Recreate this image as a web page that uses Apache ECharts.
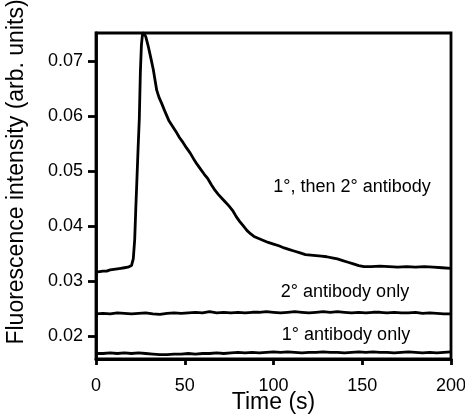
<!DOCTYPE html>
<html><head><meta charset="utf-8">
<script src="https://cdn.jsdelivr.net/npm/echarts@6/dist/echarts.min.js"></script>
<style>html,body{margin:0;padding:0;background:#fff}#c{width:465px;height:419px}</style>
</head><body><div id="c"></div>
<script>
// Main curve: 1°, then 2° antibody
const mainTime = [0,2,4,6,8,10,12,14,16,18,20,21,21.8,22.4,23,23.7,24.4,25,25.6,26.3,27,28,29.5,31,32.3,34.2,35.5,37,39,41,43,45,47,49,51,53,55,57,59,61,63,65,67,69,71,73,75,77,79,81,83,85,87,89,91,94,97,100,103,106,109,112,115,118,121,124,127,130,133,136,139,142,145,148,151,155,160,165,170,175,180,185,190,195,200];
const mainValue = [0.0316,0.0317,0.0318,0.0318,0.0320,0.0321,0.0322,0.0323,0.0324,0.0325,0.0328,0.0340,0.0375,0.0430,0.0480,0.0540,0.0595,0.0680,0.0730,0.0752,0.0752,0.0745,0.0726,0.0704,0.0684,0.0647,0.0634,0.0623,0.0607,0.0592,0.0582,0.0572,0.0561,0.0552,0.0542,0.0533,0.0522,0.0512,0.0503,0.0494,0.0486,0.0475,0.0465,0.0457,0.0450,0.0443,0.0436,0.0428,0.0417,0.0408,0.0400,0.0392,0.0386,0.0381,0.0378,0.0374,0.0370,0.0367,0.0364,0.0360,0.0357,0.0354,0.0351,0.0348,0.0347,0.0346,0.0345,0.0344,0.0342,0.0340,0.0337,0.0334,0.0331,0.0328,0.0326,0.0326,0.0327,0.0326,0.0325,0.0326,0.0325,0.0326,0.0325,0.0324,0.0323];
// Flat traces sampled every 4 s
const flatTime = [0,4,8,12,16,20,24,28,32,36,40,44,48,52,56,60,64,68,72,76,80,84,88,92,96,100,104,108,112,116,120,124,128,132,136,140,144,148,152,156,160,164,168,172,176,180,184,188,192,196,200];
const secondaryOnly = [0.0240,0.0241,0.0240,0.0242,0.0241,0.0240,0.0241,0.0242,0.0240,0.0239,0.0241,0.0242,0.0241,0.0242,0.0243,0.0242,0.0244,0.0242,0.0243,0.0242,0.0243,0.0242,0.0243,0.0243,0.0244,0.0243,0.0242,0.0243,0.0244,0.0243,0.0242,0.0243,0.0244,0.0243,0.0244,0.0243,0.0242,0.0243,0.0242,0.0243,0.0243,0.0242,0.0243,0.0242,0.0242,0.0243,0.0241,0.0242,0.0241,0.0240,0.0240];
const primaryOnly = [0.0168,0.0168,0.0169,0.0168,0.0169,0.0168,0.0169,0.0168,0.0167,0.0166,0.0166,0.0167,0.0167,0.0168,0.0167,0.0168,0.0168,0.0169,0.0168,0.0169,0.0170,0.0169,0.0170,0.0169,0.0170,0.0171,0.0170,0.0171,0.0170,0.0169,0.0170,0.0170,0.0171,0.0170,0.0170,0.0169,0.0170,0.0171,0.0170,0.0171,0.0170,0.0170,0.0169,0.0170,0.0171,0.0170,0.0169,0.0170,0.0169,0.0170,0.0171];
const yTicks = [0.02,0.03,0.04,0.05,0.06,0.07];
const xTicks = [0,50,100,150,200];
const labels = ["1°, then 2° antibody","2° antibody only","1° antibody only"];

const zip = (a,b)=>a.map((t,i)=>[t,b[i]]);
const FONT = 'Arial, "Liberation Sans", sans-serif';
const chart = echarts.init(document.getElementById('c'), null, {renderer:'canvas'});
const lineStyle = {color:'#000', width:2.8};
chart.setOption({
  animation:false,
  backgroundColor:'#fff',
  grid:{left:96,right:14,top:33,bottom:60,containLabel:false,outerBoundsMode:'none',show:true,borderColor:'#000',borderWidth:2.8,backgroundColor:'transparent'},
  xAxis:{type:'value',min:xTicks[0],max:xTicks[xTicks.length-1],interval:50,
    name:'Time (s)',nameLocation:'middle',nameGap:32,nameMoveOverlap:false,
    nameTextStyle:{fontFamily:FONT,fontSize:23,color:'#000'},
    axisLine:{show:true,lineStyle:{color:'#000',width:2.8}},
    axisTick:{show:true,inside:false,length:6,lineStyle:{color:'#000',width:2.8}},
    axisLabel:{margin:18,fontFamily:FONT,fontSize:18,color:'#000'},
    splitLine:{show:false}},
  yAxis:{type:'value',min:0.0158,max:0.0751,
    axisLine:{show:true,lineStyle:{color:'#000',width:2.8}},
    axisTick:{show:true,inside:false,length:8,customValues:yTicks,lineStyle:{color:'#000',width:2.8}},
    axisLabel:{margin:13,fontFamily:FONT,fontSize:18,color:'#000',customValues:yTicks,formatter:v=>v.toFixed(2)},
    splitLine:{show:false}},
  graphic:[
    {type:'text',x:17,y:172,rotation:Math.PI/2,style:{text:'Fluorescence intensity (arb. units)',font:'23px '+FONT,fill:'#000',align:'center',verticalAlign:'middle'}},
    {type:'text',x:352,y:187,style:{text:labels[0],font:'18px '+FONT,fill:'#000',align:'center',verticalAlign:'middle'}},
    {type:'text',x:345,y:292,style:{text:labels[1],font:'18px '+FONT,fill:'#000',align:'center',verticalAlign:'middle'}},
    {type:'text',x:346,y:335,style:{text:labels[2],font:'18px '+FONT,fill:'#000',align:'center',verticalAlign:'middle'}}
  ],
  series:[
    {type:'line',data:zip(mainTime,mainValue),showSymbol:false,lineStyle,clip:true},
    {type:'line',data:zip(flatTime,secondaryOnly),showSymbol:false,lineStyle,clip:true},
    {type:'line',data:zip(flatTime,primaryOnly),showSymbol:false,lineStyle,clip:true}
  ]
});
</script></body></html>
